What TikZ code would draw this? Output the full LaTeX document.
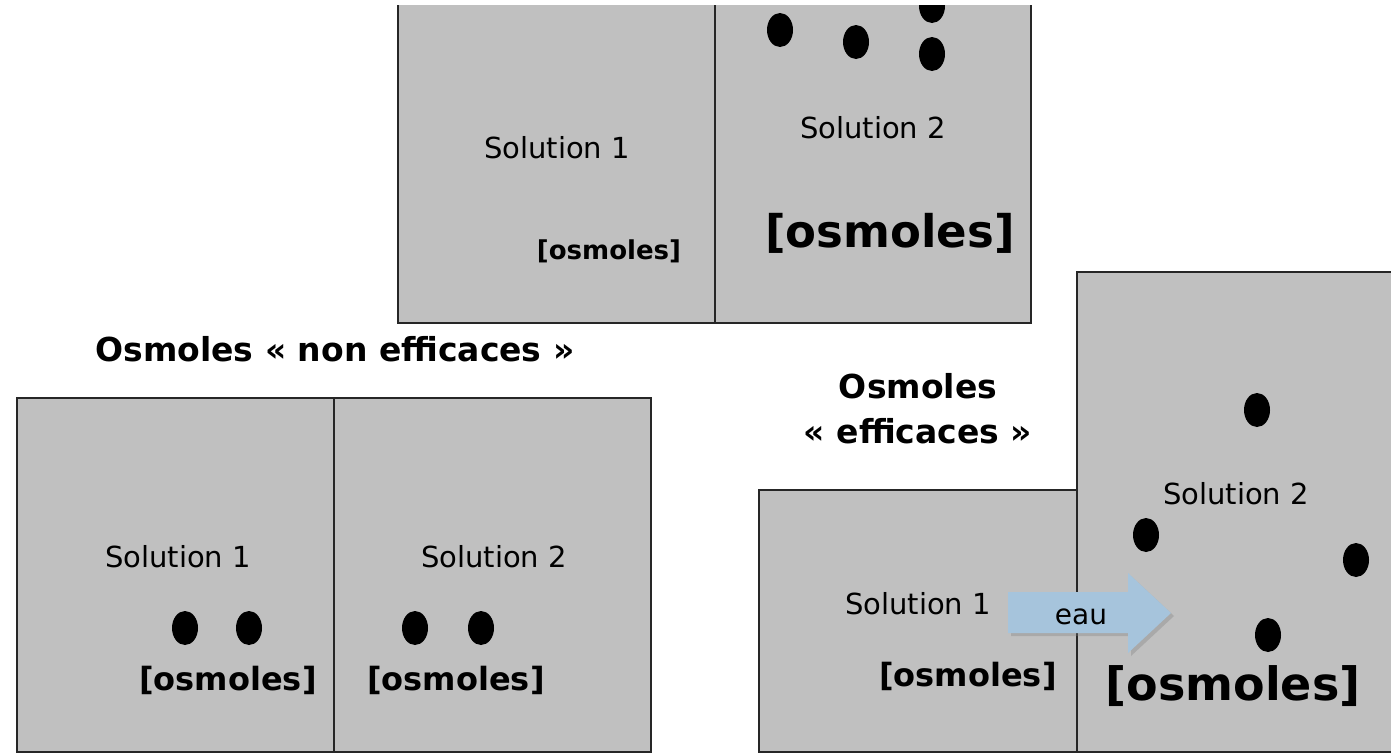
\documentclass[tikz,border=0pt]{standalone}
\usepackage{fontspec}
\setmainfont{DejaVu Sans}
\usetikzlibrary{shadows}
\definecolor{boxgray}{RGB}{192,192,192}
\definecolor{arrowblue}{RGB}{166,196,220}
\begin{document}
\begin{tikzpicture}[x=1pt,y=-1pt,
  cell/.style={fill=boxgray,draw=black!85,line width=1.2pt},
  dot/.style={fill=black,draw=none},
  sol/.style={font=\fontsize{29}{34}\selectfont,inner sep=0pt},
  osm/.style={font=\fontsize{#1}{#1}\selectfont\bfseries,inner sep=0pt},
  ttl/.style={font=\fontsize{33}{45}\selectfont\bfseries,inner sep=0pt,align=center}]
\useasboundingbox (0,0) rectangle (1391,755);
% ---------- top diagram ----------
\fill[boxgray] (398,5) rectangle (1031,323);
\draw[black!85,line width=1.2pt] (398,5) -- (398,323) -- (1031,323) -- (1031,5);
\draw[black!85,line width=1.2pt] (715,5) -- (715,323);
\begin{scope}
\clip (398,5) rectangle (1031,323);
\fill[dot] (780,30) ellipse (13 and 17);
\fill[dot] (856,42) ellipse (13 and 17);
\fill[dot] (932,6) ellipse (13 and 17);
\fill[dot] (932,54) ellipse (13 and 17);
\end{scope}
\node[sol] (t1) at (557,148) {Solution 1};
\node[osm=26] (t1o) at (609,251) {[osmoles]};
\node[sol] (t2) at (873,128) {Solution 2};
\node[osm=45] (t2o) at (890,233) {[osmoles]};
% ---------- bottom left ----------
\node[ttl] (tnon) at (335,349) {Osmoles « non efficaces »};
\path[cell] (17,398) rectangle (334,752);
\path[cell] (334,398) rectangle (651,752);
\fill[dot] (185,628) ellipse (13 and 17);
\fill[dot] (249,628) ellipse (13 and 17);
\fill[dot] (415,628) ellipse (13 and 17);
\fill[dot] (481,628) ellipse (13 and 17);
\node[sol] (l1) at (178,557) {Solution 1};
\node[sol] (l2) at (494,557) {Solution 2};
\node[osm=32] (l1o) at (228,680) {[osmoles]};
\node[osm=32] (l2o) at (456,680) {[osmoles]};
% ---------- bottom right ----------
\node[ttl] (teff) at (918,409) {Osmoles\\« efficaces »};
\path[cell] (759,490) rectangle (1077,752);
\fill[boxgray] (1077,272) rectangle (1391,752);
\draw[black!85,line width=1.2pt] (1391,272) -- (1077,272) -- (1077,752) -- (1391,752);
\fill[dot] (1257,410) ellipse (13 and 17);
\fill[dot] (1146,535) ellipse (13 and 17);
\fill[dot] (1356,560) ellipse (13 and 17);
\fill[dot] (1268,635) ellipse (13 and 17);
\node[sol] (r2) at (1236,494) {Solution 2};
\node[sol] (r1) at (918,604) {Solution 1};
\node[osm=32] (r1o) at (968,676) {[osmoles]};
\node[osm=46] (r2o) at (1233,686) {[osmoles]};
% arrow
\fill[arrowblue,drop shadow={shadow xshift=3pt,shadow yshift=-3pt,opacity=0.35}]
  (1008,592) -- (1128,592) -- (1128,573) -- (1171,613) -- (1128,653) -- (1128,633) -- (1008,633) -- cycle;
\node[font=\fontsize{28}{28}\selectfont,inner sep=0pt] (eau) at (1081,617) {eau};
\end{tikzpicture}
\end{document}
